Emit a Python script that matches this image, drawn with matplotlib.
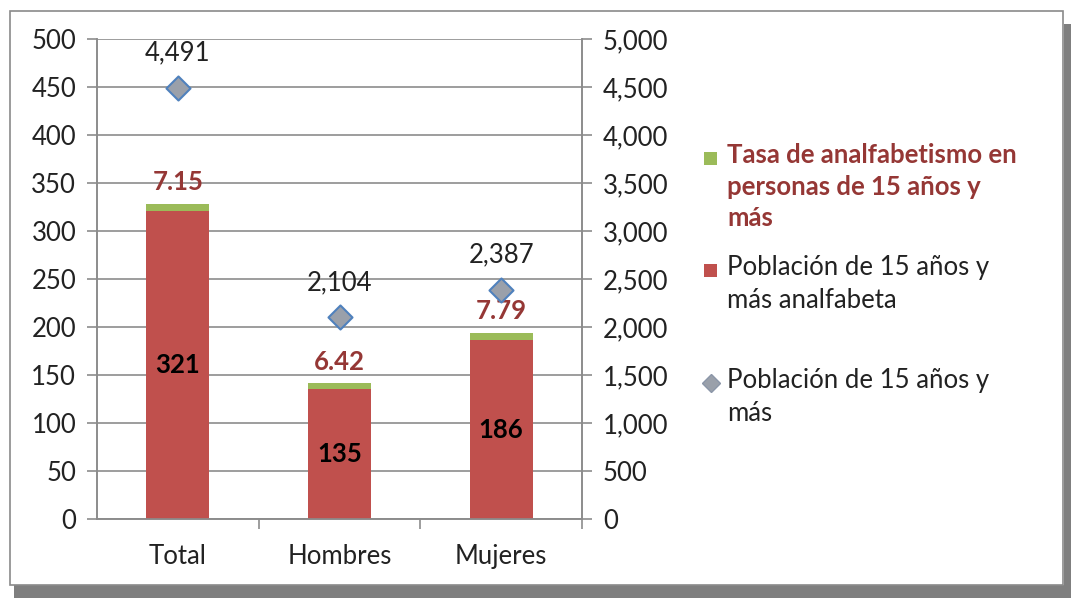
import numpy as np
import matplotlib.pyplot as plt
from matplotlib.patches import Rectangle
from matplotlib.lines import Line2D

plt.rcParams['font.family'] = ['Lato', 'DejaVu Sans']

categories = ['Total', 'Hombres', 'Mujeres']
analfabeta = [321, 135, 186]          # miles
tasa = [7.15, 6.42, 7.79]             # %
poblacion = [4491, 2104, 2387]        # miles

legend_labels = ['Tasa de analfabetismo en\npersonas de 15 años y\nmás',
                 'Población de 15 años y\nmás analfabeta',
                 'Población de 15 años y\nmás']

RED = '#c0504d'
GREEN = '#9bbb59'
DARKRED = '#953735'
GRID = '#8c8c8c'
FS = 18.5

W, H = 1071, 598
fig = plt.figure(figsize=(W / 100, H / 100), dpi=100)

# frame with drop shadow
fig.add_artist(Rectangle((14 / W, 0), (W - 14) / W, 13 / H, transform=fig.transFigure,
                         facecolor='#7f7f7f', edgecolor='none', zorder=-10))
fig.add_artist(Rectangle(((W - 7) / W, 0), 7 / W, (H - 24) / H, transform=fig.transFigure,
                         facecolor='#7f7f7f', edgecolor='none', zorder=-10))
fig.add_artist(Rectangle((10 / W, 13 / H), (W - 18) / W, (H - 24) / H, transform=fig.transFigure,
                         facecolor='white', edgecolor='#8a8a8a', lw=1.2, zorder=-9))

ax = fig.add_axes([97 / W, 79 / H, 485 / W, 480 / H])
ax2 = ax.twinx()
ax.patch.set_visible(False)
ax2.patch.set_visible(False)

x = np.arange(len(categories))
ax.bar(x, analfabeta, width=0.39, color=RED, zorder=3)
ax.bar(x, tasa, width=0.39, bottom=analfabeta, color=GREEN, zorder=3)
ax2.scatter(x, poblacion, marker='D', s=150, color='#9aa0aa', edgecolors='#4f81bd',
            linewidths=1.5, zorder=4)

ax.set_xlim(-0.5, 2.5)
ax.set_ylim(0, 500)
ax2.set_ylim(0, 5000)
ax.set_yticks(np.arange(0, 501, 50))
ax2.set_yticks(np.arange(0, 5001, 500))
ax2.set_yticklabels([f'{v:,}' for v in range(0, 5001, 500)])
ax.yaxis.grid(True, color=GRID, lw=1.2, zorder=0)
ax.set_axisbelow(True)

ax.set_xticks(x)
ax.set_xticklabels(categories)
ax.set_xticks([0.5, 1.5, 2.5], minor=True)
ax.tick_params(axis='x', which='major', length=0, labelsize=FS, pad=18, colors='#222222')
ax.tick_params(axis='x', which='minor', length=7, color=GRID, width=1.2)
ax.tick_params(axis='y', length=7, color=GRID, width=1.2, labelsize=FS, pad=8, colors='#222222')
ax2.tick_params(axis='y', length=7, color=GRID, width=1.2, labelsize=FS, pad=8, colors='#222222')
for a in (ax, ax2):
    a.tick_params(axis='y', color=GRID)
    a.spines['top'].set_visible(False)
    for s in ['left', 'right', 'bottom']:
        a.spines[s].set_color(GRID)
        a.spines[s].set_linewidth(1.2)

for i in range(len(categories)):
    ax.text(x[i], analfabeta[i] / 2, f'{analfabeta[i]}', ha='center', va='center',
            fontsize=FS, fontweight='bold', color='black', zorder=5)
    ax.text(x[i], analfabeta[i] + tasa[i] + 10, f'{tasa[i]:.2f}', ha='center', va='bottom',
            fontsize=FS, fontweight='bold', color=DARKRED, zorder=5)
    ax2.text(x[i], poblacion[i] + 230, f'{poblacion[i]:,}', ha='center', va='bottom',
             fontsize=FS, color='#222222', zorder=5)

# legend
ly = [158, 270, 383]
colors = [DARKRED, '#222222', '#222222']
weights = ['bold', 'normal', 'normal']
for k in range(3):
    fig.text(727 / W, 1 - (ly[k] - 15) / H, legend_labels[k], ha='left', va='top',
             fontsize=FS, color=colors[k], fontweight=weights[k], linespacing=1.38)
fig.add_artist(Rectangle((704 / W, 1 - 165 / H), 13 / W, 13 / H, transform=fig.transFigure,
                         facecolor=GREEN, edgecolor='none'))
fig.add_artist(Rectangle((704 / W, 1 - 277 / H), 13 / W, 13 / H, transform=fig.transFigure,
                         facecolor=RED, edgecolor='none'))
fig.add_artist(Line2D([711 / W], [1 - 383 / H], transform=fig.transFigure, marker='D',
                      markersize=9, color='#9aa0aa', markeredgecolor='#8b96a8'))

fig.savefig('out.png', dpi=100)
